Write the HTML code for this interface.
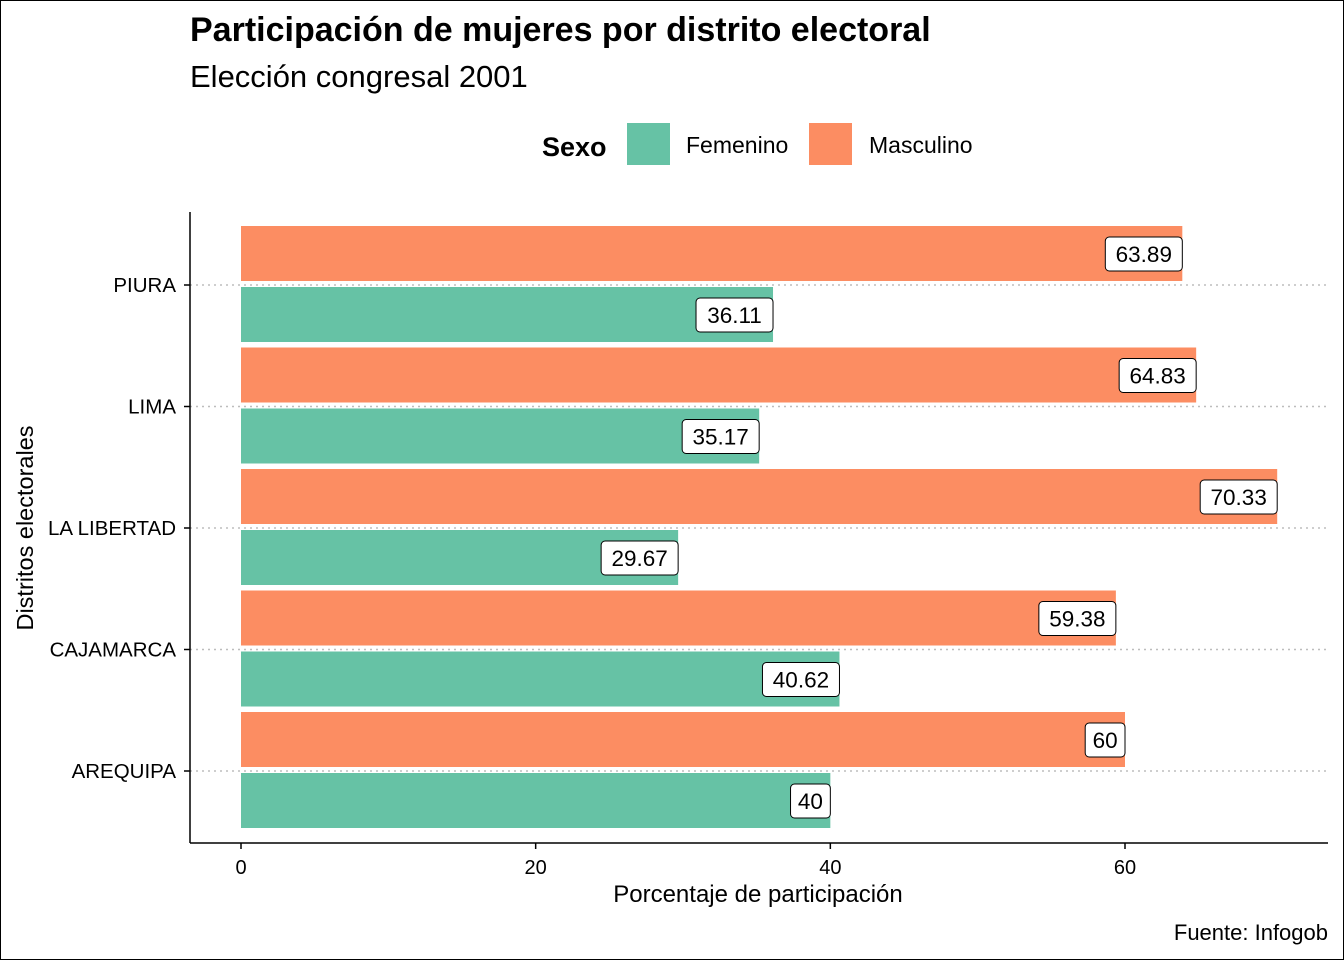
<!DOCTYPE html>
<html><head><meta charset="utf-8"><style>
html,body{margin:0;padding:0;background:#fff}
svg{display:block;font-family:"Liberation Sans",Arial,sans-serif}
</style></head><body>
<svg id="chart" width="1344" height="960" viewBox="0 0 1344 960">
<rect x="0.5" y="0.5" width="1343" height="959" fill="#fff" stroke="#000"/>
<text x="190" y="41" font-size="34" font-weight="bold">Participación de mujeres por distrito electoral</text>
<text x="190" y="87" font-size="31">Elección congresal 2001</text>
<g>
<text x="542" y="156" font-size="27" font-weight="bold">Sexo</text>
<rect x="627" y="123" width="43" height="42" fill="#66c2a5"/>
<text x="686" y="153" font-size="23">Femenino</text>
<rect x="809" y="123" width="43" height="42" fill="#fc8d62"/>
<text x="869" y="153" font-size="23">Masculino</text>
</g>
<g id="grid"></g>
<g id="bars"></g>
<g id="labels"></g>
<line x1="190" y1="212" x2="190" y2="843" stroke="#000" stroke-width="1.5"/>
<line x1="190" y1="843" x2="1328" y2="843" stroke="#000" stroke-width="1.5"/>
<g id="axes"></g>
<text x="758" y="902" font-size="24" text-anchor="middle">Porcentaje de participación</text>
<text transform="translate(33,528) rotate(-90)" font-size="23.5" text-anchor="middle">Distritos electorales</text>
<text x="1328" y="940" font-size="22" text-anchor="end">Fuente: Infogob</text>
</svg>
<script>
const categories = ["AREQUIPA","CAJAMARCA","LA LIBERTAD","LIMA","PIURA"];
const femenino = [40, 40.62, 29.67, 35.17, 36.11];
const masculino = [60, 59.38, 70.33, 64.83, 63.89];
const xTicks = [0, 20, 40, 60];

const NS = "http://www.w3.org/2000/svg";
const x = v => 241 + v * (884 / 60);
const y = i => 771 - i * 121.5;
function mk(tag, attrs, parent, text) {
  const e = document.createElementNS(NS, tag);
  for (const k in attrs) e.setAttribute(k, attrs[k]);
  if (text !== undefined) e.textContent = text;
  document.getElementById(parent).appendChild(e);
  return e;
}
function fmt(v){ return String(+v.toFixed(2)); }

categories.forEach((c, i) => {
  const cy = y(i);
  const g = mk("line", {x1:190, y1:cy, x2:1328, y2:cy, stroke:"#bdbdbd", "stroke-width":1.5, "stroke-dasharray":"2,4"}, "grid");
  
  
  const t = mk("line", {x1:184, y1:cy, x2:190, y2:cy, stroke:"#000", "stroke-width":1.5}, "axes");
  
  
  const lab = mk("text", {x:176, y:cy + 7, "font-size":20.5, "text-anchor":"end"}, "axes", c);
  
  

  const series = [[masculino[i], "#fc8d62", cy - 59, "bar-masculino"], [femenino[i], "#66c2a5", cy + 2, "bar-femenino"]];
  series.forEach(([v, col, top, nm]) => {
    const r = mk("rect", {x:x(0), y:top, width:x(v) - x(0), height:55, fill:col}, "bars");
    
    
    const txt = fmt(v);
    const w = txt.length * 12.4 + 15;
    const bx = x(v) - w;
    const b = mk("rect", {x:bx, y:top + 11, width:w, height:34, rx:4, fill:"#fff", stroke:"#000", "stroke-width":1}, "labels");
    
    
    const tl = mk("text", {x:bx + w / 2, y:top + 36, "font-size":22.5, "text-anchor":"middle"}, "labels", txt);
    
    
  });
});

xTicks.forEach(v => {
  const t = mk("line", {x1:x(v), y1:843, x2:x(v), y2:849, stroke:"#000", "stroke-width":1.5}, "axes");
  
  
  const l = mk("text", {x:x(v), y:874, "font-size":20, "text-anchor":"middle"}, "axes", String(v));
  
  
});
</script>
</body></html>
